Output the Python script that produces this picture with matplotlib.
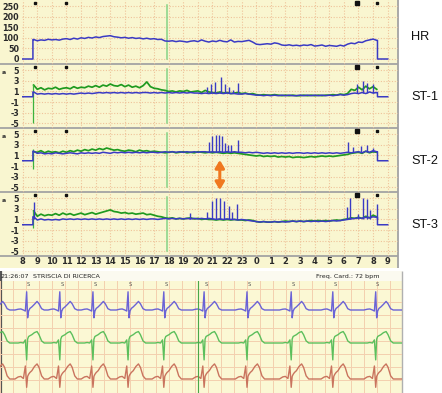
import numpy as np
import matplotlib
matplotlib.use("Agg")
import matplotlib.pyplot as plt
from matplotlib.patches import Rectangle

plt.rcParams["axes.unicode_minus"] = False

# ---------------- DATA ----------------
# Trend sampling: every 15 min from 08:45 to 08:15 next day (hours, 24+ = next day)
hours = 8.75 + 0.25 * np.arange(95)
rec_start, rec_end = 8.7, 32.3

hr_vals = [92, 86, 90, 88, 93, 90, 92, 89, 94,
           96, 92, 98, 94, 100, 97, 102, 99,
           104, 101, 106, 108, 110, 105, 103, 100,
           102, 98, 101, 97, 99, 95, 98, 94,
           96, 92, 93, 85, 84, 86, 82, 85,
           83, 80, 84, 86, 82, 90, 84, 80,
           85, 82, 88, 83, 81, 90, 80, 83,
           82, 85, 88, 80, 70, 68, 70, 72,
           70, 76, 73, 66, 64, 67, 63, 65,
           62, 66, 64, 68, 61, 63, 66, 60,
           64, 62, 60, 65, 61, 70, 75, 72,
           80, 78, 86, 90, 94, 88]

st1_green = [2.2, 1.4, 1.7, 1.3, 1.6, 1.5, 1.8, 1.4, 1.6,
             1.7, 1.5, 1.9, 1.6, 1.8, 1.7, 2.0, 1.8,
             2.1, 1.8, 2.2, 2.0, 2.4, 2.1, 2.0, 2.3,
             1.9, 2.2, 1.8, 2.0, 1.7, 2.1, 2.8, 1.9,
             1.6, 1.5, 1.3, 1.2, 1.0, 1.1, 0.9, 1.1,
             1.0, 1.2, 0.9, 1.0, 1.1, 0.8, 1.2, 0.9,
             0.8, 0.7, 0.9, 0.7, 0.8, 0.6, 0.7, 0.8,
             0.6, 0.7, 0.5, 0.6, 0.4, 0.3, 0.4, 0.3,
             0.3, 0.4, 0.3, 0.2, 0.3, 0.2, 0.3, 0.2,
             0.2, 0.3, 0.2, 0.3, 0.2, 0.3, 0.2, 0.3,
             0.3, 0.4, 0.3, 0.5, 0.4, 0.6, 1.4, 1.2,
             1.8, 1.3, 2.0, 1.5, 1.9, 1.4]
st1_blue = [0.9, 0.5, 0.6, 0.5, 0.6, 0.5, 0.6, 0.5, 0.6,
            0.5, 0.6, 0.5, 0.6, 0.7, 0.6, 0.7, 0.6,
            0.7, 0.8, 0.7, 0.8, 0.7, 0.8, 0.7, 0.8,
            0.7, 0.8, 0.7, 0.8, 0.7, 0.8, 0.8, 0.7,
            0.8, 0.7, 0.8, 0.7, 0.8, 0.7, 0.8, 0.7,
            0.8, 0.7, 0.8, 0.7, 0.7, 0.6, 0.7, 0.6,
            0.7, 0.6, 0.7, 0.6, 0.7, 0.6, 0.6, 0.5,
            0.5, 0.6, 0.5, 0.4, 0.3, 0.3, 0.2, 0.3,
            0.2, 0.3, 0.2, 0.3, 0.2, 0.3, 0.2, 0.2,
            0.3, 0.2, 0.3, 0.2, 0.3, 0.2, 0.3, 0.2,
            0.3, 0.2, 0.3, 0.4, 0.3, 0.4, 0.6, 0.7,
            0.6, 0.8, 0.6, 0.9, 0.7, 0.8]
st2_green = [1.7, 1.6, 1.9, 1.5, 1.8, 1.6, 1.7, 1.5, 1.8,
             1.6, 1.9, 1.7, 2.0, 1.8, 2.1, 1.9, 2.2,
             2.0, 2.3, 2.1, 2.4, 2.2, 2.0, 2.1, 1.9,
             1.8, 2.0, 1.9, 1.7, 2.0, 1.8, 1.9, 1.7,
             1.8, 1.7, 1.6, 1.5, 1.6, 1.7, 1.5, 1.6,
             1.7, 1.5, 1.6, 1.5, 1.7, 1.6, 1.5, 1.6,
             1.5, 1.6, 1.5, 1.4, 1.5, 1.4, 1.5, 1.4,
             1.3, 1.2, 1.1, 1.0, 0.9, 1.0, 0.8, 0.9,
             0.8, 0.9, 0.7, 0.8, 0.7, 0.8, 0.6, 0.7,
             0.7, 0.6, 0.7, 0.8, 0.7, 0.8, 0.9, 0.8,
             0.9, 0.8, 0.9, 1.0, 1.1, 1.2, 1.4, 1.5,
             1.6, 1.4, 1.8, 1.5, 1.7, 1.6]
st2_blue = [1.8, 1.4, 1.5, 1.3, 1.4, 1.3, 1.5, 1.4, 1.3,
            1.4, 1.5, 1.4, 1.3, 1.5, 1.4, 1.5, 1.4,
            1.5, 1.4, 1.6, 1.5, 1.4, 1.6, 1.5, 1.6,
            1.5, 1.6, 1.5, 1.6, 1.5, 1.6, 1.5, 1.6,
            1.6, 1.5, 1.6, 1.7, 1.6, 1.7, 1.6, 1.7,
            1.6, 1.7, 1.6, 1.7, 1.6, 1.7, 1.7, 1.6,
            1.7, 1.6, 1.7, 1.6, 1.7, 1.6, 1.7, 1.6,
            1.6, 1.5, 1.6, 1.5, 1.6, 1.5, 1.4, 1.5,
            1.4, 1.5, 1.4, 1.5, 1.4, 1.5, 1.4, 1.5,
            1.5, 1.4, 1.5, 1.4, 1.5, 1.4, 1.5, 1.4,
            1.5, 1.4, 1.5, 1.4, 1.5, 1.6, 1.5, 1.6,
            1.7, 1.5, 1.8, 1.6, 1.9, 1.7]
st3_green = [2.6, 1.6, 2.0, 1.7, 1.9, 1.8, 2.1, 1.8, 2.2,
             1.9, 2.1, 1.8, 2.0, 2.2, 1.9, 2.1, 2.3,
             2.0, 2.2, 2.4, 2.6, 2.8, 2.5, 2.4, 2.2,
             2.3, 2.1, 2.2, 2.0, 2.1, 2.2, 1.9, 2.0,
             1.8, 1.6, 1.5, 1.3, 1.2, 1.3, 1.1, 1.2,
             1.1, 1.2, 1.3, 1.1, 1.2, 1.0, 1.1, 1.0,
             1.0, 0.9, 1.0, 0.9, 1.0, 0.9, 1.0, 0.9,
             0.9, 0.8, 0.9, 0.8, 0.6, 0.5, 0.6, 0.5,
             0.5, 0.6, 0.5, 0.6, 0.7, 0.6, 0.7, 0.6,
             0.7, 0.6, 0.7, 0.8, 0.7, 0.8, 0.7, 0.8,
             0.7, 0.8, 0.9, 0.8, 1.0, 1.1, 1.3, 1.2,
             1.4, 1.2, 1.6, 1.3, 1.8, 1.5]
st3_blue = [1.5, 0.9, 1.1, 0.9, 1.0, 0.9, 1.0, 0.9, 1.1,
            1.0, 1.1, 1.0, 1.1, 1.0, 1.1, 1.0, 1.1,
            1.0, 1.1, 1.0, 1.1, 1.0, 1.1, 1.0, 1.1,
            1.0, 1.1, 1.0, 1.1, 1.0, 1.1, 1.0, 1.1,
            1.1, 1.0, 1.1, 1.2, 1.1, 1.2, 1.1, 1.2,
            1.1, 1.2, 1.1, 1.2, 1.1, 1.2, 1.1, 1.2,
            1.1, 1.0, 1.1, 1.0, 1.1, 1.0, 1.0, 0.9,
            1.0, 0.9, 0.8, 0.7, 0.6, 0.5, 0.6, 0.5,
            0.5, 0.6, 0.5, 0.6, 0.5, 0.6, 0.7, 0.6,
            0.7, 0.6, 0.7, 0.6, 0.7, 0.6, 0.7, 0.6,
            0.7, 0.8, 0.7, 0.8, 0.9, 1.0, 1.1, 1.2,
            1.3, 1.2, 1.4, 1.3, 1.5, 1.4]

# ischaemic ST spikes (blue): time (h), peak value, baseline they rise from
st1_spk_t = [20.6, 20.9, 21.2, 21.55, 21.85, 22.1, 22.4, 22.75, 30.9, 31.3, 31.6, 32.0]
st1_spk_v = [1.8, 2.5, 2.8, 3.7, 2.5, 1.9, 1.3, 2.6, 2.5, 3.0, 2.6, 2.4]
st1_spk_b = 0.7
st2_spk_t = [20.78, 20.99, 21.22, 21.45, 21.63, 21.84, 22.06, 22.25, 22.77,
             30.3, 30.6, 31.2, 31.6, 32.0]
st2_spk_v = [3.6, 4.6, 4.9, 4.8, 4.6, 3.3, 3.0, 3.0, 4.0, 3.6, 2.6, 2.8, 3.0, 2.4]
st2_spk_b = 1.6
st3_spk_t = [8.8, 19.45, 20.6, 20.95, 21.25, 21.5, 21.8, 22.1, 22.35, 22.7,
             30.2, 30.45, 31.0, 31.3, 31.55, 31.8, 32.25]
st3_spk_v = [4.2, 2.2, 2.5, 4.5, 5.0, 5.0, 4.5, 3.5, 2.5, 4.0,
             3.4, 5.0, 2.0, 5.0, 4.8, 2.8, 4.0]
st3_spk_b = 1.1
# green start artefacts: (low, high)
green_art_t = 8.72
green_art = [(-5.0, 2.4), (-1.6, 2.2), (-0.7, 2.6)]

marker_hours = [8.84, 10.95, 30.9, 32.3]
marker_big = [False, False, True, False]
event_hour = 17.88
arrow_hour = 21.5

hr_ticks = [0, 50, 100, 150, 200, 250]
st_ticks = [-5, -3, -1, 1, 3, 5]
x_hours = list(range(8, 34))
x_labels = [str(h % 24) for h in x_hours]
panel_names = ["HR", "ST-1", "ST-2", "ST-3"]

# ECG strip (seconds, mV)
beat_times = [-0.12, 0.41, 0.92, 1.43, 1.97, 2.52, 3.14, 3.80, 4.48, 5.12, 5.78]
tmpl_t = [-0.18, -0.13, -0.09, -0.05, -0.02, 0.0, 0.015, 0.03, 0.05, 0.08,
          0.12, 0.16, 0.19, 0.23, 0.27, 0.30]
lead_blue = [0.0, 0.03, 0.04, 0.0, -0.04, 0.70, -0.30, -0.04, 0.06, 0.12,
             0.22, 0.33, 0.24, 0.05, 0.0, 0.0]
lead_green = [0.0, 0.0, 0.02, 0.0, 0.12, -0.65, 0.15, 0.25, 0.28, 0.32,
              0.40, 0.44, 0.32, 0.08, 0.0, 0.0]
lead_red = [0.0, 0.08, 0.10, 0.02, 0.50, -0.32, 0.10, 0.18, 0.25, 0.32,
            0.48, 0.58, 0.45, 0.12, 0.0, 0.0]
strip_marker_time = 3.05
strip_header = "21:26:07"
strip_title = "STRISCIA DI RICERCA"
strip_rate = "Freq. Card.: 72 bpm"

# ---------------- LAYOUT / STYLE ----------------
W, H = 442, 393
YELLOW = "#f9f6d0"
GRID = "#efc39a"
BLUE = "#3a3ac4"
GREEN = "#1f9a1f"
SEP = "#a3a3a3"

fig = plt.figure(figsize=(W / 100, H / 100), dpi=100)
fig.patch.set_facecolor("white")


def px_rect(x0, y0, x1, y1):
    return [x0 / W, 1 - y1 / H, (x1 - x0) / W, (y1 - y0) / H]


ov = fig.add_axes([0, 0, 1, 1], zorder=0)
ov.set_xlim(0, W)
ov.set_ylim(H, 0)
ov.axis("off")
ov.add_patch(Rectangle((0, 0), 398, 268, color=YELLOW, lw=0))
ov.hlines([64, 128, 192, 256], 0, 398, color=SEP, lw=1.3)
ov.vlines(398, 0, 268, color=SEP, lw=1.3)
# strip frame
ov.add_patch(Rectangle((0, 271), 402, 10, color="#fbfaf0", lw=0))
ov.add_patch(Rectangle((0, 281), 402, 112, color="#fbf8d4", lw=0))
ov.vlines(0.8, 271, 393, color="#555555", lw=1.6)
ov.vlines(402, 271, 393, color="#b0b0b0", lw=1.0)

PX_PER_H = 14.6
X0_PX = 22.7  # pixel of hour 8
tops = [0, 64, 128, 192]
axes = []
for i, top in enumerate(tops):
    ax = fig.add_axes(px_rect(22, top, 398, top + 64), zorder=1)
    ax.set_facecolor("none")
    ax.set_xlim(8 + (22 - X0_PX) / PX_PER_H, 8 + (398 - X0_PX) / PX_PER_H)
    if i == 0:
        ax.set_ylim(-5 * 250 / 53, 59 * 250 / 53)
        ax.set_yticks(hr_ticks)
    else:
        ax.set_ylim((32.75 - 64) / 5.3, 32.75 / 5.3)
        ax.set_yticks(st_ticks)
        ov.text(4, top + 8, "a", fontsize=4.5, fontweight="bold", color="#333333",
                ha="center", va="center")
    ax.set_xticks(x_hours)
    ax.grid(True, color=GRID, linestyle=(0, (1, 1.5)), lw=0.8)
    ax.tick_params(length=0, labelsize=5.8, colors="#2a2a2a", pad=2.2)
    for lab in ax.get_yticklabels():
        lab.set_fontweight("bold")
    for sp in ax.spines.values():
        sp.set_visible(False)
    if i < 3:
        ax.tick_params(labelbottom=False)
    else:
        ax.set_xticklabels(x_labels, fontweight="bold")
        ax.tick_params(axis="x", pad=0.6, labelsize=6.0)
    # markers at top
    for mh, big in zip(marker_hours, marker_big):
        ax.plot([mh], [1 - 3 / 64], transform=ax.get_xaxis_transform(), marker="s",
                ms=2.6 if big else 1.8, color="#111111", clip_on=False)
    ax.axvline(event_hour, ymin=5 / 64, ymax=59 / 64, color="#86d386", lw=1.1)
    axes.append(ax)
    ov.text(411, top + (37 if i == 0 else 33), panel_names[i], fontsize=9.2,
            family="Liberation Sans", color="#111111", va="center", ha="left")


def with_offline(vals):
    x = np.concatenate([[8.0, rec_start, rec_start], hours, [rec_end, rec_end, 33.0]])
    y = np.concatenate([[0, 0, vals[0]], vals, [vals[-1], 0, 0]])
    return x, y


# HR
x, y = with_offline(hr_vals)
axes[0].plot(x, y, color=BLUE, lw=1.1)

st_sets = [(st1_green, st1_blue, st1_spk_t, st1_spk_v, st1_spk_b),
           (st2_green, st2_blue, st2_spk_t, st2_spk_v, st2_spk_b),
           (st3_green, st3_blue, st3_spk_t, st3_spk_v, st3_spk_b)]
for k, (g, b, st, sv, sb) in enumerate(st_sets):
    ax = axes[k + 1]
    ax.plot(hours, g, color=GREEN, lw=1.25)
    lo, hi = green_art[k]
    ax.vlines(green_art_t, lo, hi, color="#3cb33c", lw=0.9)
    x, y = with_offline(b)
    ax.plot(x, y, color=BLUE, lw=1.1)
    ax.vlines(st, sb, sv, color=BLUE, lw=1.0)

axes[2].annotate("", xy=(arrow_hour, (32.75 - 62) / 5.3), xytext=(arrow_hour, (32.75 - 32) / 5.3),
                 arrowprops=dict(arrowstyle="<|-|>,head_length=0.5,head_width=0.3",
                                 color="#f07820", lw=2.2, shrinkA=0, shrinkB=0,
                                 mutation_scale=9))

# ---------------- ECG strip ----------------
SX = 65.0  # px per second
SY = 26.0  # px per mV
sax = fig.add_axes(px_rect(0, 281, 402, 393), zorder=1)
sax.set_facecolor("none")
sax.set_xlim(0, 402 / SX)
sax.set_ylim(0, 112 / SY)
sax.set_xticks(np.arange(0, 402 / SX, 13 / SX))
sax.set_yticks(np.arange(0, 112 / SY, 13 / SY))
sax.grid(True, color="#f3cfae", lw=0.7)
sax.tick_params(length=0, labelbottom=False, labelleft=False)
for sp in sax.spines.values():
    sp.set_visible(False)

lead_specs = [(lead_blue, 83 / SY, "#6b63d6"), (lead_green, 50 / SY, "#5cbf5c"),
              (lead_red, 14 / SY, "#c9745e")]
tt = np.array(tmpl_t)
for tmpl, off, col in lead_specs:
    xs = [np.array([0.0 - 1])]
    ys = [np.array([off])]
    for bt in beat_times:
        xs.append(bt + tt)
        ys.append(off + np.array(tmpl))
    xs.append(np.array([402 / SX + 1]))
    ys.append(np.array([off]))
    sax.plot(np.concatenate(xs), np.concatenate(ys), color=col, lw=1.0)

sax.axvline(strip_marker_time, color="#49a849", lw=0.8)
for bt in beat_times[1:]:
    sax.text(bt + 2 / SX, (393 - 285) / 112, "S", transform=sax.get_xaxis_transform(),
             fontsize=3.6, color="#555555", ha="center", va="center")

ov.text(0.5, 276.5, strip_header, fontsize=4.6, color="#222222", va="center", ha="left")
ov.text(33, 276.5, strip_title, fontsize=4.6, color="#222222", va="center", ha="left")
ov.text(316, 276.5, strip_rate, fontsize=4.6, color="#222222", va="center", ha="left")

fig.savefig("out.png", dpi=100)
